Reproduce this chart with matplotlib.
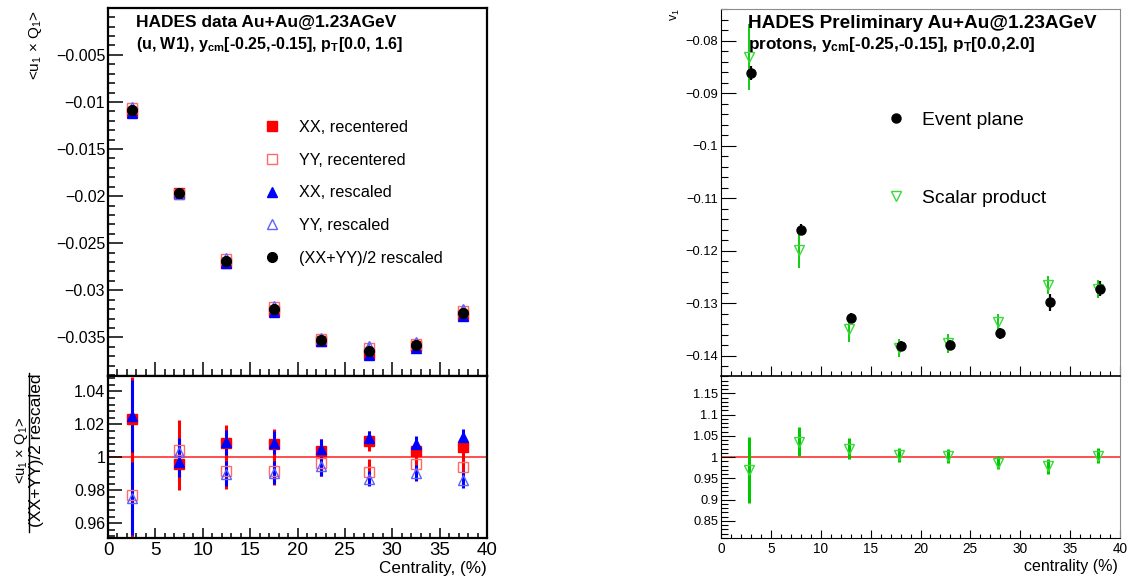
import matplotlib
matplotlib.use('Agg')
import matplotlib.pyplot as plt
from matplotlib.lines import Line2D
from matplotlib.ticker import MultipleLocator, FuncFormatter

plt.rcParams['font.family'] = ['Liberation Sans', 'DejaVu Sans']
plt.rcParams['mathtext.fontset'] = 'custom'
plt.rcParams['mathtext.rm'] = 'Liberation Sans'
plt.rcParams['mathtext.it'] = 'Liberation Sans:italic'
plt.rcParams['mathtext.bf'] = 'Liberation Sans:bold'

# ---- left: <u1 x Q1> correlations vs centrality
cent = [2.5, 7.5, 12.5, 17.5, 22.5, 27.5, 32.5, 37.5]

mean_resc = [-0.01085, -0.0197, -0.02686, -0.03199, -0.03525, -0.03642, -0.03582, -0.03238]
xx_rec = [-0.01110, -0.01962, -0.02709, -0.03225, -0.03539, -0.03678, -0.03596, -0.03257]
yy_rec = [-0.01060, -0.01979, -0.02665, -0.03173, -0.03513, -0.03609, -0.03567, -0.03219]
xx_resc = [-0.01112, -0.01964, -0.02711, -0.03228, -0.03543, -0.03684, -0.03611, -0.03278]
yy_resc = [-0.01058, -0.01977, -0.02659, -0.03169, -0.03506, -0.03595, -0.03548, -0.03194]
corr_err = [0.0003, 0.0002, 0.0002, 0.0002, 0.0002, 0.0002, 0.0002, 0.0002]

ratio_xx_rec = [1.023, 0.996, 1.0085, 1.008, 1.004, 1.010, 1.004, 1.006]
ratio_yy_rec = [0.977, 1.0045, 0.992, 0.992, 0.9965, 0.991, 0.9958, 0.994]
ratio_xx_resc = [1.025, 0.997, 1.0092, 1.009, 1.005, 1.0115, 1.008, 1.0125]
ratio_yy_resc = [0.975, 1.0035, 0.990, 0.9905, 0.9945, 0.987, 0.9905, 0.9865]
err_xx_rec = [0.026, 0.016, 0.011, 0.009, 0.007, 0.006, 0.006, 0.007]
err_yy_rec = [0.026, 0.018, 0.011, 0.009, 0.008, 0.008, 0.006, 0.007]
err_xx_resc = [0.022, 0.009, 0.0075, 0.007, 0.006, 0.0045, 0.005, 0.005]
err_yy_resc = [0.022, 0.008, 0.0075, 0.007, 0.006, 0.0045, 0.005, 0.005]

# ---- right: v1 of protons
cent_ep = [3.0, 8.0, 13.0, 18.0, 23.0, 28.0, 33.0, 38.0]
cent_sp = [2.8, 7.8, 12.8, 17.8, 22.8, 27.8, 32.8, 37.8]
v1_ep = [-0.0862, -0.1160, -0.1329, -0.1382, -0.1380, -0.1358, -0.1299, -0.1273]
v1_ep_err = [0.0013, 0.0011, 0.0010, 0.0010, 0.0010, 0.0010, 0.0017, 0.0014]
v1_sp = [-0.0832, -0.1199, -0.1350, -0.1386, -0.1377, -0.1337, -0.1265, -0.1273]
v1_sp_err = [0.0063, 0.0035, 0.0025, 0.0017, 0.0018, 0.0017, 0.0017, 0.0017]
ratio_sp = [0.970, 1.036, 1.020, 1.005, 1.002, 0.987, 0.978, 1.003]
ratio_sp_err = [0.077, 0.034, 0.025, 0.017, 0.017, 0.015, 0.0175, 0.018]

RED = '#ff0000'
PINK = '#ff6a6a'
BLUE = '#0000ff'
LBLUE = '#6060ff'
GREEN = '#00c800'
LGREEN = '#3cd83c'

W, H = 1132, 581
fig = plt.figure(figsize=(W / 100, H / 100), dpi=100)


def box(x0, y0, x1, y1):
    # pixel box (top-left origin) -> figure fraction
    return [x0 / W, 1 - y1 / H, (x1 - x0) / W, (y1 - y0) / H]


def root_fmt(v, pos):
    s = '%g' % round(v, 6)
    return s.replace('-', '\u2212')


def style_axes(ax, lw, tick_w, major, minor, ysize, xsize=None):
    for sp in ax.spines.values():
        sp.set_linewidth(lw)
    ax.tick_params(which='both', direction='in', width=tick_w, top=False, right=False)
    ax.tick_params(which='major', length=major[0], axis='y', labelsize=ysize, pad=2)
    ax.tick_params(which='minor', length=minor[0], axis='y')
    ax.tick_params(which='major', length=major[1], axis='x')
    ax.tick_params(which='minor', length=minor[1], axis='x')
    if xsize is not None:
        ax.tick_params(axis='x', labelsize=xsize, pad=3)
    ax.yaxis.set_major_formatter(FuncFormatter(root_fmt))
    ax.xaxis.set_major_locator(MultipleLocator(5))
    ax.xaxis.set_minor_locator(MultipleLocator(1))
    ax.set_xlim(0, 40)


# ================= left panel =================
ax1 = fig.add_axes(box(108, 8, 487, 376))
ax2 = fig.add_axes(box(108, 376, 487, 538))

ekw = dict(elinewidth=1.5, capsize=0, linestyle='none', markersize=6.5)
ax1.errorbar(cent, xx_rec, yerr=corr_err, fmt='s', color=RED, **ekw)
ax1.errorbar(cent, yy_rec, yerr=corr_err, fmt='s', color=PINK, mfc='none', mew=1, **ekw)
ax1.errorbar(cent, xx_resc, yerr=corr_err, fmt='^', color=BLUE, **ekw)
ax1.errorbar(cent, yy_resc, yerr=corr_err, fmt='^', color=LBLUE, mfc='none', mew=1, **ekw)
ax1.errorbar(cent, mean_resc, yerr=corr_err, fmt='o', color='black', elinewidth=1.5,
             capsize=0, linestyle='none', markersize=7)
ax1.set_ylim(-0.0391, -0.00002)
ax1.yaxis.set_major_locator(MultipleLocator(0.005))
ax1.yaxis.set_minor_locator(MultipleLocator(0.001))
style_axes(ax1, 1.6, 1.1, (11, 10), (5, 5), 11.5)
ax1.set_xticklabels([])

rkw = dict(elinewidth=2.2, capsize=0, linestyle='none', markersize=6.5)
ax2.errorbar(cent, ratio_xx_rec, yerr=err_xx_rec, fmt='s', color=RED, **rkw)
ax2.errorbar(cent, ratio_yy_rec, yerr=err_yy_rec, fmt='s', color=PINK, mfc='none', mew=1,
             ecolor=RED, **rkw)
ax2.errorbar(cent, ratio_xx_resc, yerr=err_xx_resc, fmt='^', color=BLUE, **rkw)
ax2.errorbar(cent, ratio_yy_resc, yerr=err_yy_resc, fmt='^', color=LBLUE, mfc='none', mew=1,
             ecolor=BLUE, **rkw)
ax2.axhline(1.0, color='#ff4040', lw=1.3, zorder=1)
ax2.set_ylim(0.951, 1.0494)
ax2.yaxis.set_major_locator(MultipleLocator(0.02))
ax2.yaxis.set_minor_locator(MultipleLocator(0.004))
style_axes(ax2, 1.6, 1.1, (10, 7), (5, 3.5), 11.5, 13.5)

fig.text(136 / W, 1 - 23 / H, 'HADES data Au+Au@1.23AGeV', fontsize=12.5,
         fontweight='bold', va='center', ha='left')
fig.text(136 / W, 1 - 45 / H,
         r'(u, W1), y$_{\mathbf{cm}}$[-0.25,-0.15], p$_{\mathbf{T}}$[0.0, 1.6]',
         fontsize=11.5, fontweight='bold', va='center', ha='left')

handles = [
    Line2D([], [], marker='s', color=RED, ls='none', markersize=6.5),
    Line2D([], [], marker='s', color=PINK, mfc='none', ls='none', markersize=6.5),
    Line2D([], [], marker='^', color=BLUE, ls='none', markersize=6.5),
    Line2D([], [], marker='^', color=LBLUE, mfc='none', ls='none', markersize=6.5),
    Line2D([], [], marker='o', color='black', ls='none', markersize=7),
]
labels = ['XX, recentered', 'YY, recentered', 'XX, rescaled', 'YY, rescaled',
          '(XX+YY)/2 rescaled']
ax1.legend(handles, labels, loc='upper left', bbox_to_anchor=(262 / W, 1 - 120 / H),
           bbox_transform=fig.transFigure, frameon=False, fontsize=11.7,
           handlelength=1.2, handletextpad=1.05, labelspacing=1.09, borderpad=0,
           borderaxespad=0)

fig.text(35 / W, 1 - 10 / H, r'<u$_1$ $\times$ Q$_1$>', rotation=90, fontsize=11,
         ha='center', va='top')
# ratio y-title drawn as a fraction
yc = 1 - 450 / H
fig.text(21 / W, yc, r'<u$_1$ $\times$ Q$_1$>', rotation=90, fontsize=10.5,
         ha='center', va='center', rotation_mode='anchor')
fig.text(37 / W, yc, '(XX+YY)/2 rescaled', rotation=90, fontsize=12.5,
         ha='center', va='center', rotation_mode='anchor')
fig.add_artist(Line2D([28.5 / W, 28.5 / W], [1 - 373 / H, 1 - 532 / H], color='black',
                      lw=1.0, transform=fig.transFigure))
fig.text(487 / W, 1 - 568 / H, 'Centrality, (%)', fontsize=12.3, ha='right', va='center')

# ================= right panel =================
ax3 = fig.add_axes(box(721, 9, 1120, 376))
ax4 = fig.add_axes(box(721, 376, 1120, 538))

ax3.errorbar(cent_sp, v1_sp, yerr=v1_sp_err, fmt='v', color=LGREEN, mfc='none', mew=1,
             ecolor=GREEN, elinewidth=1.3, capsize=0, linestyle='none', markersize=6.5)
ax3.errorbar(cent_ep, v1_ep, yerr=v1_ep_err, fmt='o', color='black', elinewidth=1.6,
             capsize=0, linestyle='none', markersize=6.5)
ax3.set_ylim(-0.1439, -0.074)
ax3.yaxis.set_major_locator(MultipleLocator(0.01))
ax3.yaxis.set_minor_locator(MultipleLocator(0.002))
style_axes(ax3, 0.8, 0.8, (10.5, 7), (5, 3.5), 9.3)
ax3.set_xticklabels([])

ax4.errorbar(cent_sp, ratio_sp, yerr=ratio_sp_err, fmt='v', color=LGREEN, mfc='none',
             mew=1, ecolor=GREEN, elinewidth=2.2, capsize=0, linestyle='none',
             markersize=6.5)
ax4.axhline(1.0, color='#ff4040', lw=1.3, zorder=1)
ax4.set_ylim(0.8095, 1.191)
ax4.yaxis.set_major_locator(MultipleLocator(0.05))
ax4.yaxis.set_minor_locator(MultipleLocator(0.01))
style_axes(ax4, 0.8, 0.8, (10, 6), (5, 3), 9.3, 9.8)

for ax in (ax3, ax4):
    ax.spines['top'].set_color('#8c8c8c')
    ax.spines['right'].set_color('#8c8c8c')
ax4.spines['top'].set_color('black')
ax4.spines['top'].set_linewidth(1.2)

fig.text(748 / W, 1 - 23 / H, 'HADES Preliminary Au+Au@1.23AGeV', fontsize=13.7,
         fontweight='bold', va='center', ha='left')
fig.text(748 / W, 1 - 45 / H,
         r'protons, y$_{\mathbf{cm}}$[-0.25,-0.15], p$_{\mathbf{T}}$[0.0,2.0]',
         fontsize=12.3, fontweight='bold', va='center', ha='left')

handles_r = [
    Line2D([], [], marker='o', color='black', ls='none', markersize=6.5),
    Line2D([], [], marker='v', color=LGREEN, mfc='none', ls='none', markersize=6.5),
]
ax3.legend(handles_r, ['Event plane', 'Scalar product'], loc='upper left',
           bbox_to_anchor=(886 / W, 1 - 111 / H), bbox_transform=fig.transFigure,
           frameon=False, fontsize=13.9, handlelength=1.0, handletextpad=0.85,
           labelspacing=3.16, borderpad=0, borderaxespad=0)

fig.text(675 / W, 1 - 8 / H, r'v$_1$', rotation=90, fontsize=9, ha='center', va='top')
fig.text(1118 / W, 1 - 567 / H, 'centrality (%)', fontsize=11.5, ha='right', va='center')

fig.savefig('out.png', dpi=100)
